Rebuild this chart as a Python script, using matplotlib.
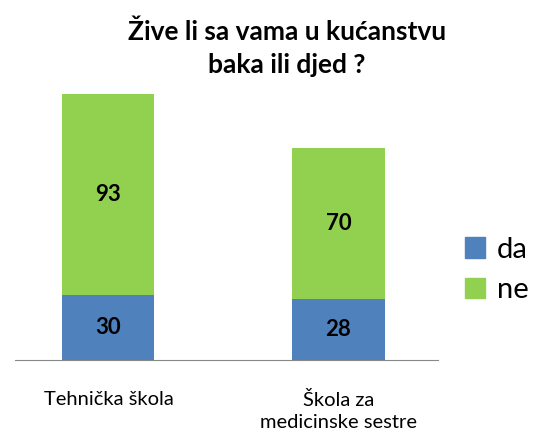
import matplotlib.pyplot as plt
from matplotlib.patches import Patch

plt.rcParams['font.family'] = ['Lato', 'DejaVu Sans']

kategorije = ['Tehnička škola', 'Škola za\nmedicinske sestre']
da = [30, 28]
ne = [93, 70]
serije = ['da', 'ne']
boje = ['#4F81BD', '#92D050']

fig = plt.figure(figsize=(5.35, 4.32), dpi=100)
ax = fig.add_axes([15 / 535, 72 / 432, 423 / 535, 280 / 432])

x = list(range(len(kategorije)))
b1 = ax.bar(x, da, width=0.4, color=boje[0])
b2 = ax.bar(x, ne, width=0.4, bottom=da, color=boje[1])

for bars, vals, dno in [(b1, da, [0, 0]), (b2, ne, da)]:
    for r, v, d in zip(bars, vals, dno):
        ax.text(r.get_x() + r.get_width() / 2, d + v / 2, str(v),
                ha='center', va='center', fontsize=16, fontweight='bold')

ax.set_xlim(-0.4065, 1.4326)
ax.set_ylim(0, 129.4)
ax.set_yticks([])
ax.set_xticks(x)
ax.set_xticklabels(kategorije, fontsize=14.5, va='top', linespacing=1.4)
ax.tick_params(axis='x', length=0, pad=22)
for s in ['top', 'right', 'left']:
    ax.spines[s].set_visible(False)
ax.spines['bottom'].set_color('#888888')

fig.text(0.536, 0.888, 'Žive li sa vama u kućanstvu\nbaka ili djed ?',
         ha='center', va='center', fontsize=19, fontweight='bold', linespacing=1.45)

handles = [Patch(color=c, label=l) for c, l in zip(boje, serije)]
fig.legend(handles=handles, loc='center left', bbox_to_anchor=(0.82, 0.375),
           frameon=False, fontsize=21, handlelength=0.7, handleheight=0.7,
           handletextpad=0.4, labelspacing=0.5)

fig.savefig('out.png', dpi=100)
